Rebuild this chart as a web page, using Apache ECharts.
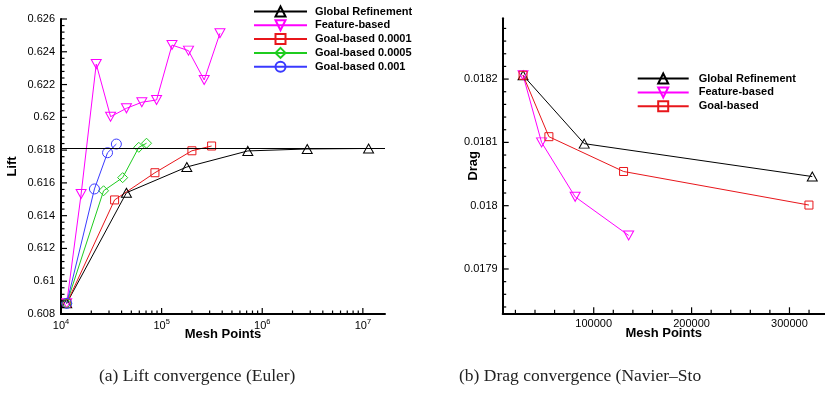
<!DOCTYPE html>
<html>
<head>
<meta charset="utf-8">
<script src="https://cdn.jsdelivr.net/npm/echarts@6/dist/echarts.min.js"></script>
<style>html,body{margin:0;padding:0;background:#fff}#c{width:825px;height:395px}</style>
</head>
<body>
<div id="c"></div>
<script>
// ---------- Left chart: Lift convergence (Euler) ----------
const liftGlobalX  = [11400, 44700, 178000, 719000, 2800000, 11400000];
const liftGlobalY  = [0.60865, 0.6154, 0.61697, 0.61795, 0.61807, 0.6181];
const liftFeatureX = [11400, 15850, 22400, 31100, 44700, 63600, 89100, 126800, 185000, 265000, 380000];
const liftFeatureY = [0.60865, 0.61532, 0.62325, 0.62004, 0.62055, 0.62092, 0.62106, 0.62441, 0.62407, 0.62228, 0.62513];
const liftGoal1X   = [11400, 34100, 85800, 200000, 314000];
const liftGoal1Y   = [0.60865, 0.61496, 0.61662, 0.61796, 0.61825];
const liftGoal5X   = [11400, 26500, 41000, 59300, 70800];
const liftGoal5Y   = [0.60865, 0.61552, 0.61632, 0.61817, 0.61842];
const liftGoal10X  = [11400, 21500, 29000, 35500];
const liftGoal10Y  = [0.60865, 0.61563, 0.61784, 0.61837];
const liftReference = 0.6181;
const liftNames = ['Global Refinement', 'Feature-based', 'Goal-based 0.0001', 'Goal-based 0.0005', 'Goal-based 0.001'];
const liftXMajorTicks = [1e4, 1e5, 1e6, 1e7];
const liftXMinorTicks = [2e4,3e4,4e4,5e4,6e4,7e4,8e4,9e4, 2e5,3e5,4e5,5e5,6e5,7e5,8e5,9e5, 2e6,3e6,4e6,5e6,6e6,7e6,8e6,9e6];
const liftYMajorTicks = [0.608, 0.61, 0.612, 0.614, 0.616, 0.618, 0.62, 0.622, 0.624, 0.626];
const liftYMinorTicks = [0.6084,0.6088,0.6092,0.6096, 0.6104,0.6108,0.6112,0.6116, 0.6124,0.6128,0.6132,0.6136,
  0.6144,0.6148,0.6152,0.6156, 0.6164,0.6168,0.6172,0.6176, 0.6184,0.6188,0.6192,0.6196,
  0.6204,0.6208,0.6212,0.6216, 0.6224,0.6228,0.6232,0.6236, 0.6244,0.6248,0.6252,0.6256];

// ---------- Right chart: Drag convergence ----------
const dragGlobalX  = [27800, 90300, 323300];
const dragGlobalY  = [0.018206, 0.018098, 0.018046];
const dragFeatureX = [27800, 46700, 81000, 135700];
const dragFeatureY = [0.018206, 0.0181, 0.018014, 0.017953];
const dragGoalX    = [27800, 54200, 130500, 319900];
const dragGoalY    = [0.018206, 0.018109, 0.018054, 0.018001];
const dragNames = ['Global Refinement', 'Feature-based', 'Goal-based'];
const dragXMajorTicks = [100000, 200000, 300000];
const dragXMinorTicks = [20000,40000,60000,80000,120000,140000,160000,180000,220000,240000,260000,280000,320000];
const dragYMajorTicks = [0.0179, 0.018, 0.0181, 0.0182];
const dragYMinorTicks = [0.01784,0.01786,0.01788,0.01792,0.01794,0.01796,0.01798,0.01802,0.01804,0.01806,0.01808,0.01812,0.01814,0.01816,0.01818,0.01822,0.01824,0.01826,0.01828];

const captionA = '(a) Lift convergence (Euler)';
const captionB = '(b) Drag convergence (Navier–Sto';

const SANS = '"Liberation Sans", Arial, Helvetica, sans-serif';
const zip = (xs, ys) => xs.map((x, i) => [x, ys[i]]);
const LX_MIN = 1e4, LX_MAX = 1.66e7;
const LY_MIN = 0.608, LY_MAX = 0.626;
const RX_MIN = 7000, RX_MAX = 336000;
const RY_MIN = 0.01783, RY_MAX = 0.018296;

function ser(name, xs, ys, color, symbol, size, rot, xi, yi) {
  return {
    type: 'line', name, data: zip(xs, ys), xAxisIndex: xi, yAxisIndex: yi,
    symbol, symbolSize: size, symbolRotate: rot || 0, showSymbol: true,
    lineStyle: {color, width: 1},
    itemStyle: {color: 'rgba(255,255,255,0)', borderColor: color, borderWidth: 1},
    emphasis: {disabled: true}, animation: false, z: 3
  };
}

// Inward tick marks, positioned through the axes' own scales (api.coord)
function tickSeries(values, horizontalAxis, anchor, len, gi) {
  const data = values.map(v => horizontalAxis ? [v, anchor] : [anchor, v]);
  return {
    type: 'custom', xAxisIndex: gi, yAxisIndex: gi, data, silent: true, clip: false,
    animation: false, z: 4, tooltip: {show: false},
    renderItem: (params, api) => {
      const p = api.coord([api.value(0), api.value(1)]);
      const shape = horizontalAxis
        ? {x1: p[0], y1: p[1], x2: p[0], y2: p[1] - len}
        : {x1: p[0], y1: p[1], x2: p[0] + len, y2: p[1]};
      return {type: 'line', shape, style: {stroke: '#000', lineWidth: 1.2}};
    }
  };
}

const thickLine = () => ({show: true, lineStyle: {color: '#000', width: 2}});
const labelStyle = () => ({color: '#000', fontSize: 11, fontFamily: SANS});
const nameStyle = () => ({color: '#000', fontSize: 13, fontWeight: 'bold', fontFamily: SANS});

const chart = echarts.init(document.getElementById('c'), null, {renderer: 'canvas'});
chart.setOption({
  backgroundColor: '#fff',
  animation: false,
  grid: [
    {left: 61, top: 19, width: 324, height: 295},
    {left: 502.7, top: 18.3, width: 322, height: 295}
  ],
  xAxis: [
    {type: 'log', gridIndex: 0, min: LX_MIN, max: LX_MAX, position: 'bottom', axisLine: thickLine(),
     axisTick: {show: false}, splitLine: {show: false}, minorTick: {show: false},
     axisLabel: {show: true, margin: 4, customValues: liftXMajorTicks,
       formatter: v => '{b|10}{s|' + Math.round(Math.log10(v)) + '}',
       rich: {b: {fontSize: 11, fontFamily: SANS, color: '#000'},
              s: {fontSize: 7.5, fontFamily: SANS, color: '#000', padding: [0, 0, 7, 0]}}},
     name: 'Mesh Points', nameLocation: 'middle', nameGap: 14, nameMoveOverlap: false, nameTextStyle: nameStyle()},
    {type: 'value', gridIndex: 1, min: RX_MIN, max: RX_MAX, position: 'bottom', axisLine: thickLine(),
     axisTick: {show: false}, splitLine: {show: false},
     axisLabel: Object.assign({customValues: dragXMajorTicks, margin: 5, formatter: v => String(v)}, labelStyle()),
     name: 'Mesh Points', nameLocation: 'middle', nameGap: 14, nameMoveOverlap: false, nameTextStyle: nameStyle()}
  ],
  yAxis: [
    {type: 'value', gridIndex: 0, min: LY_MIN, max: LY_MAX, position: 'left', axisLine: thickLine(),
     axisTick: {show: false}, splitLine: {show: false},
     axisLabel: Object.assign({margin: 6, customValues: liftYMajorTicks, formatter: v => String(+v.toFixed(4))}, labelStyle()),
     name: 'Lift', nameLocation: 'middle', nameRotate: 90, nameGap: 42.5, nameMoveOverlap: false, nameTextStyle: nameStyle()},
    {type: 'value', gridIndex: 1, min: RY_MIN, max: RY_MAX, position: 'left', axisLine: thickLine(),
     axisTick: {show: false}, splitLine: {show: false},
     axisLabel: Object.assign({margin: 5, customValues: dragYMajorTicks, formatter: v => String(+v.toFixed(5))}, labelStyle()),
     name: 'Drag', nameLocation: 'middle', nameRotate: 90, nameGap: 23, nameMoveOverlap: false, nameTextStyle: nameStyle()}
  ],
  legend: [
    {data: liftNames, orient: 'vertical', left: 253, top: 5.5, itemWidth: 53, itemHeight: 12.5, itemGap: 1.8,
     textStyle: {color: '#000', fontSize: 11, fontWeight: 'bold', fontFamily: SANS, padding: [0, 0, 0, 3]},
     selectedMode: false, padding: 0},
    {data: dragNames, orient: 'vertical', left: 636.7, top: 72.5, itemWidth: 51, itemHeight: 12.5, itemGap: 1.9,
     textStyle: {color: '#000', fontSize: 11, fontWeight: 'bold', fontFamily: SANS, padding: [0, 0, 0, 5]},
     selectedMode: false, padding: 0}
  ],
  series: [
    Object.assign(ser(liftNames[0], liftGlobalX, liftGlobalY, '#000000', 'triangle', [10, 9], 0, 0, 0), {
      markLine: {silent: true, symbol: 'none', precision: 6, label: {show: false}, lineStyle: {color: '#000', width: 1.2, type: 'solid'},
                 data: [{yAxis: liftReference}], animation: false}
    }),
    ser(liftNames[1], liftFeatureX, liftFeatureY, '#ff00ff', 'triangle', [10, 9], 180, 0, 0),
    ser(liftNames[2], liftGoal1X, liftGoal1Y, '#e8161b', 'rect', 8, 0, 0, 0),
    ser(liftNames[3], liftGoal5X, liftGoal5Y, '#1fcc1f', 'diamond', 10, 0, 0, 0),
    ser(liftNames[4], liftGoal10X, liftGoal10Y, '#3a3aff', 'circle', 10, 0, 0, 0),
    ser(dragNames[0], dragGlobalX, dragGlobalY, '#000000', 'triangle', [10, 9], 0, 1, 1),
    ser(dragNames[1], dragFeatureX, dragFeatureY, '#ff00ff', 'triangle', [10, 9], 180, 1, 1),
    ser(dragNames[2], dragGoalX, dragGoalY, '#e8161b', 'rect', 8, 0, 1, 1),
    // tick marks
    tickSeries(liftXMajorTicks, true, LY_MIN, 6, 0),
    tickSeries(liftXMinorTicks, true, LY_MIN, 3.5, 0),
    tickSeries(liftYMajorTicks, false, LX_MIN, 6, 0),
    tickSeries(liftYMinorTicks, false, LX_MIN, 3.5, 0),
    tickSeries(dragXMajorTicks, true, RY_MIN, 6, 1),
    tickSeries(dragXMinorTicks, true, RY_MIN, 3.5, 1),
    tickSeries(dragYMajorTicks, false, RX_MIN, 6, 1),
    tickSeries(dragYMinorTicks, false, RX_MIN, 3.5, 1)
  ],
  graphic: [
    {type: 'text', left: 99, top: 367, style: {text: captionA, fill: '#222', font: '17.5px "Liberation Serif", "DejaVu Serif", serif'}},
    {type: 'text', left: 459, top: 367, style: {text: captionB, fill: '#222', font: '17.5px "Liberation Serif", "DejaVu Serif", serif'}}
  ]
});
</script>
</body>
</html>
